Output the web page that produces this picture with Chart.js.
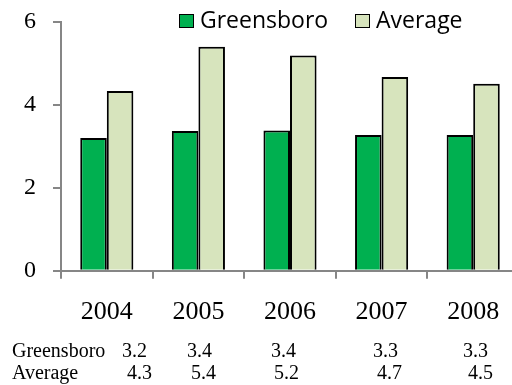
<!DOCTYPE html>
<html lang="en">
<head>
  <meta charset="UTF-8">
  <title>Greensboro vs Average</title>
  <script src="https://cdn.jsdelivr.net/npm/chart.js@4.4.5/dist/chart.umd.min.js"></script>
  <style>
    html, body { margin: 0; padding: 0; background: #fff; overflow: hidden; }
    .chart-box { position: relative; width: 519px; height: 385px; }
  </style>
</head>
<body>
  <div class="chart-box">
    <canvas id="rateChart"></canvas>
  </div>

  <script>
    // Chart data
    const years = ['2004', '2005', '2006', '2007', '2008'];
    const greensboro = [3.2, 3.37, 3.38, 3.27, 3.27];
    const average = [4.33, 5.4, 5.19, 4.67, 4.51];
    const seriesNames = ['Greensboro', 'Average'];
    const yTicks = [0, 2, 4, 6];

    const seriesColors = ['#00B050', '#D7E4BD'];
    const axisGray = '#868686';

    // Legend drawn inside the plot, like the Excel original
    const innerLegend = {
      id: 'innerLegend',
      afterDraw(chart) {
        const ctx = chart.ctx;
        const boxX = [179, 355];
        ctx.save();
        ctx.font = '23px "Open Sans"';
        ctx.textBaseline = 'middle';
        ctx.textAlign = 'left';
        chart.data.datasets.forEach((ds, i) => {
          ctx.fillStyle = ds.backgroundColor;
          ctx.fillRect(boxX[i], 14, 15, 14);
          ctx.strokeStyle = '#000';
          ctx.lineWidth = 1;
          ctx.strokeRect(boxX[i] + 0.5, 14.5, 14, 13);
          ctx.fillStyle = '#000';
          ctx.fillText(ds.label, boxX[i] + 21, 21);
        });
        ctx.restore();
      }
    };

    // Data table under the axis
    const dataTable = {
      id: 'dataTable',
      afterDraw(chart) {
        const ctx = chart.ctx;
        const rowY = [357, 379];
        const colX = [[122, 187, 271, 373, 463], [127, 191, 274, 377, 468]];
        ctx.save();
        ctx.font = '20px "Liberation Serif"';
        ctx.fillStyle = '#000';
        ctx.textBaseline = 'alphabetic';
        ctx.textAlign = 'left';
        chart.data.datasets.forEach((ds, r) => {
          ctx.fillText(ds.label, 12, rowY[r]);
          ds.data.forEach((v, c) => {
            ctx.fillText(v.toFixed(1), colX[r][c], rowY[r]);
          });
        });
        ctx.restore();
      }
    };

    new Chart(document.getElementById('rateChart'), {
      type: 'bar',
      data: {
        labels: years,
        datasets: [
          {
            label: seriesNames[0],
            data: greensboro,
            backgroundColor: seriesColors[0],
            borderColor: '#000',
            borderWidth: 2
          },
          {
            label: seriesNames[1],
            data: average,
            backgroundColor: seriesColors[1],
            borderColor: '#000',
            borderWidth: 2
          }
        ]
      },
      options: {
        responsive: true,
        maintainAspectRatio: false,
        animation: false,
        layout: { padding: { left: 7, top: 19, right: 0, bottom: 39 } },
        datasets: { bar: { categoryPercentage: 0.58, barPercentage: 1.0 } },
        plugins: {
          legend: { display: false },
          tooltip: { enabled: false }
        },
        scales: {
          x: {
            grid: { display: true, drawOnChartArea: false, drawTicks: true, tickLength: 8, color: axisGray, lineWidth: 2, offset: true },
            border: { display: true, color: axisGray, width: 2 },
            ticks: { color: '#000', font: { family: '"Liberation Serif"', size: 26 }, padding: 18 }
          },
          y: {
            min: 0,
            max: 6,
            afterBuildTicks(axis) { axis.ticks = yTicks.map(v => ({ value: v })); },
            grid: { display: true, drawOnChartArea: false, drawTicks: true, tickLength: 8, color: axisGray, lineWidth: 2 },
            border: { display: true, color: axisGray, width: 2 },
            ticks: { color: '#000', font: { family: '"Liberation Serif"', size: 24, lineHeight: 0.4 }, padding: 17 }
          }
        }
      },
      plugins: [innerLegend, dataTable]
    });
  </script>
</body>
</html>
